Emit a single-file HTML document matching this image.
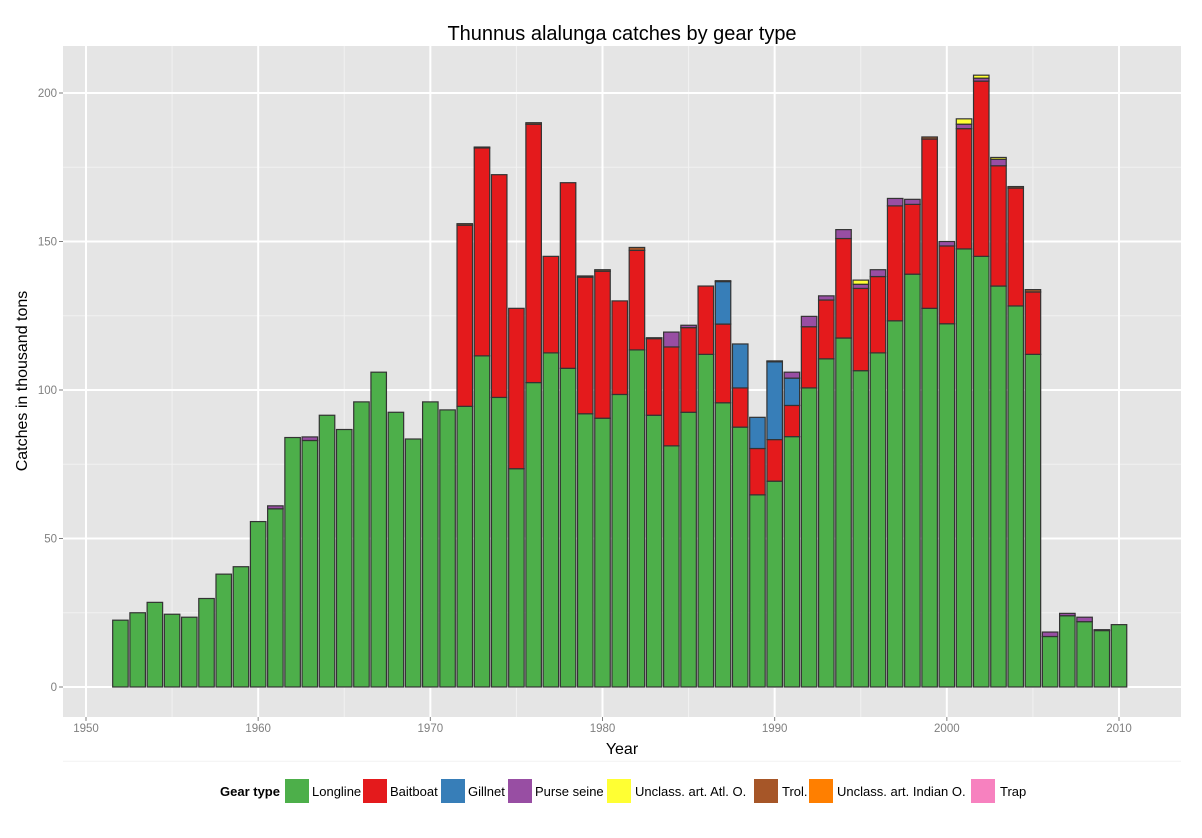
<!DOCTYPE html>
<html><head><meta charset="utf-8"><style>
body{margin:0;background:#fff;font-family:"Liberation Sans",sans-serif}
</style></head><body>
<svg id="chart" width="1202" height="833" xmlns="http://www.w3.org/2000/svg" font-family="Liberation Sans, sans-serif">
<rect x="0" y="0" width="1202" height="833" fill="#fff"/>
<rect x="63" y="46" width="1118" height="671" fill="#e5e5e5"/>
<g id="grid"></g>
<g id="bars"></g>
<g id="axes"></g>
<text x="622" y="40" font-size="20" text-anchor="middle" fill="#000">Thunnus alalunga catches by gear type</text>
<text x="622" y="754" font-size="16" text-anchor="middle">Year</text>
<text transform="translate(27,381) rotate(-90)" font-size="16" text-anchor="middle">Catches in thousand tons</text>
<g id="legend"></g>
</svg>
<script>
const years=[1952,1953,1954,1955,1956,1957,1958,1959,1960,1961,1962,1963,1964,1965,1966,1967,1968,1969,1970,1971,1972,1973,1974,1975,1976,1977,1978,1979,1980,1981,1982,1983,1984,1985,1986,1987,1988,1989,1990,1991,1992,1993,1994,1995,1996,1997,1998,1999,2000,2001,2002,2003,2004,2005,2006,2007,2008,2009,2010];
const longline=[22.5,25,28.5,24.5,23.5,29.8,38,40.5,55.7,60,84,83,91.5,86.7,96,106,92.5,83.5,96,93.3,94.5,111.5,97.5,73.5,102.5,112.5,107.3,92,90.5,98.5,113.5,91.5,81.2,92.5,112,95.7,87.5,64.7,69.3,84.3,100.7,110.5,117.5,106.5,112.5,123.3,139,127.5,122.3,147.5,145,135,128.3,112,17,24,22,19,21];
const baitboat=[0,0,0,0,0,0,0,0,0,0,0,0,0,0,0,0,0,0,0,0,61,70,75,54,87,32.5,62.5,46,49.5,31.5,33.5,25.8,33.3,28.5,23,26.5,13.2,15.6,14,10.5,20.6,19.8,33.5,27.7,25.7,38.7,23.5,57,26.2,40.5,59,40.5,39.7,21,0,0,0,0,0];
const gillnet=[0,0,0,0,0,0,0,0,0,0,0,0,0,0,0,0,0,0,0,0,0,0,0,0,0,0,0,0,0,0,0,0,0,0,0,14.3,14.8,10.5,26.2,9.2,0,0,0,0,0,0,0,0,0,0,0,0,0,0,0,0,0,0,0];
const purseSeine=[0,0,0,0,0,0,0,0,0,1,0,1.2,0,0,0,0,0,0,0,0,0,0,0,0,0,0,0,0,0,0,0,0,5,0.8,0,0,0,0,0,2,3.5,1.4,3,1.4,2.3,2.5,1.7,0,1.5,1.5,1,2.2,0,0,1.5,0.8,1.5,0,0];
const unclassAtl=[0,0,0,0,0,0,0,0,0,0,0,0,0,0,0,0,0,0,0,0,0,0,0,0,0,0,0,0,0,0,0,0,0,0,0,0,0,0,0,0,0,0,0,1.4,0,0,0,0,0,1.8,1,0.6,0,0,0,0,0,0,0];
const trol=[0,0,0,0,0,0,0,0,0,0,0,0,0,0,0,0,0,0,0,0,0.5,0.3,0,0,0.5,0,0,0.4,0.5,0,1,0.3,0,0,0,0.3,0,0,0.3,0,0,0,0,0,0,0,0,0.7,0,0,0,0,0.5,0.8,0,0,0,0.3,0];
const unclassInd=years.map(()=>0);
const trap=years.map(()=>0);
const seriesNames=["Longline","Baitboat","Gillnet","Purse seine","Unclass. art. Atl. O.","Trol.","Unclass. art. Indian O.","Trap"];
const seriesColors=["#4daf4a","#e41a1c","#377eb8","#984ea3","#ffff33","#a65628","#ff7f00","#f781bf"];
const seriesData=[longline,baitboat,gillnet,purseSeine,unclassAtl,trol,unclassInd,trap];
const xTicks=[1950,1960,1970,1980,1990,2000,2010];
const yTicks=[0,50,100,150,200];

const NS="http://www.w3.org/2000/svg";
const X0=63,X1=1181,Y0=46,Y1=717;
const xs=y=>86+(y-1950)*(1033/60);
const ys=v=>687-v*2.97;
function mk(tag,attrs,parent){const e=document.createElementNS(NS,tag);for(const k in attrs)e.setAttribute(k,attrs[k]);parent.appendChild(e);return e;}
const grid=document.getElementById('grid'),bars=document.getElementById('bars'),axes=document.getElementById('axes'),legend=document.getElementById('legend');
for(let i=0;i<xTicks.length-1;i++){const m=(xTicks[i]+xTicks[i+1])/2;const l=mk('line',{x1:xs(m),x2:xs(m),y1:Y0,y2:Y1,stroke:'#f2f2f2','stroke-width':1},grid);}
for(let i=0;i<yTicks.length;i++){const m=yTicks[i]+25;if(ys(m)>Y0){const l=mk('line',{x1:X0,x2:X1,y1:ys(m),y2:ys(m),stroke:'#f2f2f2','stroke-width':1},grid);}}
const lm=mk('line',{x1:X0,x2:X1,y1:ys(-25),y2:ys(-25),stroke:'#f2f2f2'},grid);
xTicks.forEach(t=>{const l=mk('line',{x1:xs(t),x2:xs(t),y1:Y0,y2:Y1,stroke:'#fff','stroke-width':2},grid);
 const tk=mk('line',{x1:xs(t),x2:xs(t),y1:Y1,y2:Y1+4,stroke:'#7f7f7f'},axes);
 const tx=mk('text',{x:xs(t),y:Y1+15,'font-size':11.5,'text-anchor':'middle',fill:'#7f7f7f'},axes);tx.textContent=t;});
yTicks.forEach(t=>{const l=mk('line',{x1:X0,x2:X1,y1:ys(t),y2:ys(t),stroke:'#fff','stroke-width':2},grid);
 const tk=mk('line',{x1:X0-4,x2:X0,y1:ys(t),y2:ys(t),stroke:'#7f7f7f'},axes);
 const tx=mk('text',{x:X0-6,y:ys(t)+4,'font-size':11.5,'text-anchor':'end',fill:'#7f7f7f'},axes);tx.textContent=t;});
const bw=15.5;
years.forEach((yr,i)=>{let base=0;seriesData.forEach((arr,s)=>{const v=arr[i];if(v<=0)return;
 const r=mk('rect',{x:xs(yr)-bw/2,y:ys(base+v),width:bw,height:v*2.97,fill:seriesColors[s],stroke:'#333','stroke-width':1.2},bars);
 
 base+=v;});});
const lt=mk('text',{x:220,y:796,'font-size':13,'font-weight':'bold'},legend);lt.textContent='Gear type';
const keyX=[285,363,441,508,607,754,809,971];
const textX=[312,390,468,535,635,782,837,1000];
seriesNames.forEach((n,s)=>{const g=mk('g',{},legend);
 mk('rect',{x:keyX[s],y:779,width:24,height:24,fill:seriesColors[s]},g);
 const t=mk('text',{x:textX[s],y:796,'font-size':13},g);t.textContent=n;});
</script>
</body></html>
